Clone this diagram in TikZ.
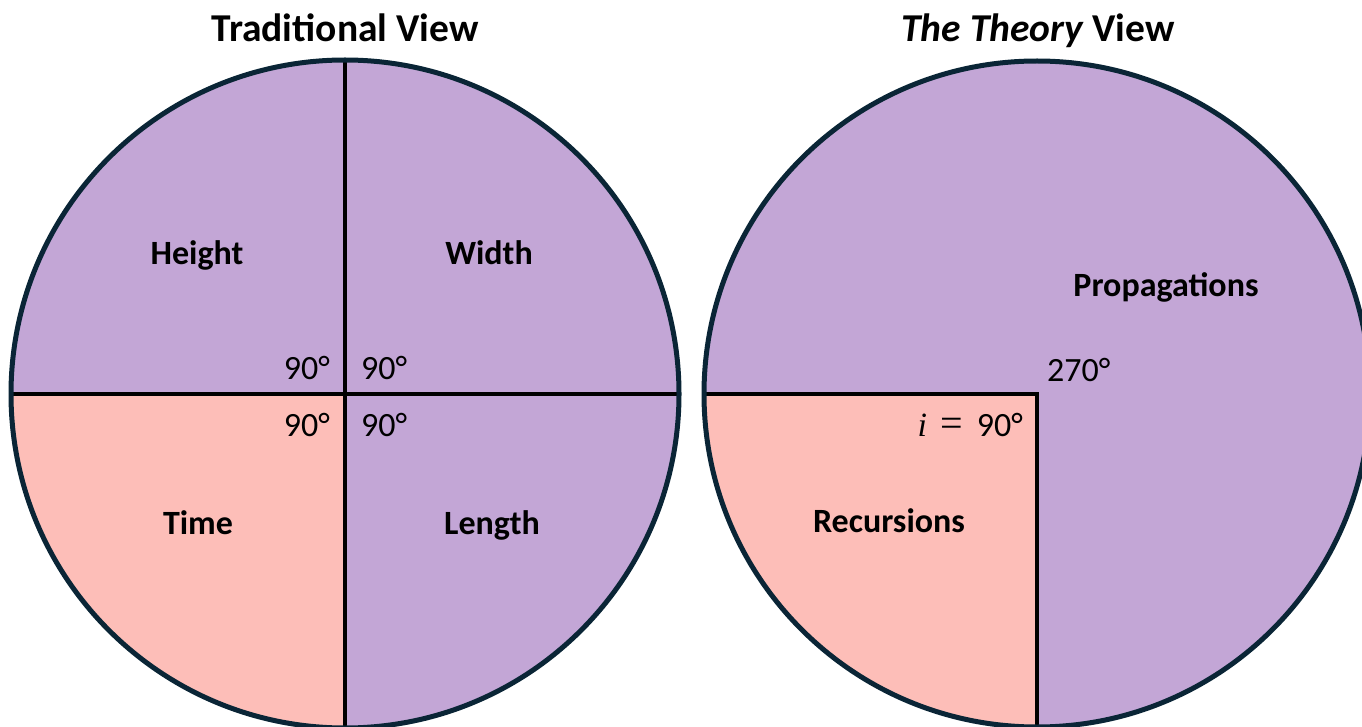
\documentclass[tikz,border=0pt]{standalone}
\usepackage{fontspec}
\setmainfont{Carlito}
\newfontfamily\mathlike{Liberation Serif}
\definecolor{lav}{HTML}{C3A6D6}
\definecolor{rose}{HTML}{FDBEB8}
\definecolor{rim}{HTML}{0A2536}
\tikzset{
  title/.style={font=\fontsize{39.5}{46}\selectfont\bfseries, anchor=base},
  lab/.style={font=\fontsize{34}{40}\selectfont\bfseries, anchor=base},
  ang/.style={font=\fontsize{34}{40}\selectfont, anchor=base, inner sep=0pt},
  divider/.style={line width=4pt, black},
  rimline/.style={line width=5pt, rim}
}
\begin{document}
\begin{tikzpicture}[x=1pt,y=-1pt]
\useasboundingbox (0,0) rectangle (1362,727);
\fill[white] (0,0) rectangle (1362,727);
\begin{scope}
\clip (0,0) rectangle (1362,727);
% left circle
\coordinate (L) at (345,394);
\fill[lav] (L) circle[radius=334];
\fill[rose] (L) -- ++(-334,0) arc[start angle=180, end angle=90, radius=334] -- cycle;
\coordinate (Lt) at (345,60);
\coordinate (Lb) at (345,730);
\coordinate (Ll) at (11,394);
\coordinate (Lr) at (679,394);
\draw[divider] (Lt) -- (Lb);
\draw[divider] (Ll) -- (Lr);
\draw[rimline] (L) circle[radius=334];
% right circle
\coordinate (R) at (1037,394);
\fill[lav] (R) circle[radius=333];
\fill[rose] (R) -- ++(-333,0) arc[start angle=180, end angle=90, radius=333] -- cycle;
\coordinate (Rl) at (704,394);
\coordinate (Rb) at (1037,730);
\draw[divider] (Rl) -- (R) -- (Rb);
\draw[rimline] (R) circle[radius=333];
\end{scope}
% titles
\node[title] (t1) at (345,42) {Traditional View};
\node[title] (t2) at (1038,42) {\itshape The Theory\upshape{} View};
% labels left
\node[lab] (h) at (197,265) {Height};
\node[lab] (w) at (489,265) {Width};
\node[lab] (ti) at (198,534) {Time};
\node[lab] (le) at (492,534) {Length};
\node[ang, anchor=base east] (a1) at (330,379) {90°};
\node[ang, anchor=base west] (a2) at (361,379) {90°};
\node[ang, anchor=base east] (a3) at (330,436) {90°};
\node[ang, anchor=base west] (a4) at (361,436) {90°};
% labels right
\node[lab] (p) at (1166,297) {Propagations};
\node[lab] (r) at (889,532) {Recursions};
\node[ang, anchor=base west] (a5) at (1047,381) {270°};
\node[ang, anchor=base east] (a6) at (1023,436) {{\mathlike\itshape i}\hspace{0.4em}{\mathlike\fontsize{40}{40}\selectfont =}\hspace{0.4em}90°};
\end{tikzpicture}
\end{document}
